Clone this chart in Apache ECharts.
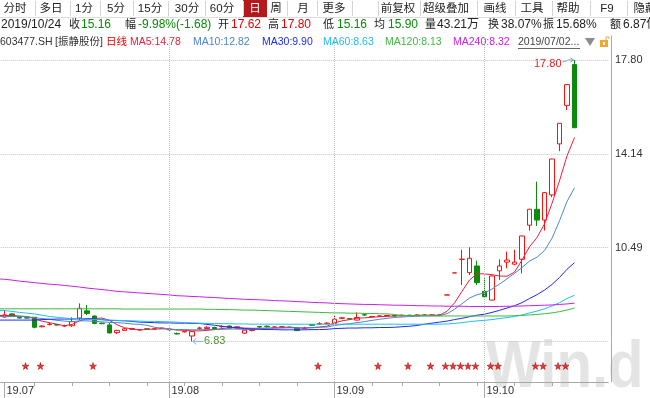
<!DOCTYPE html>
<html>
<head>
<meta charset="utf-8">
<script src="https://cdn.jsdelivr.net/npm/echarts@6/dist/echarts.min.js"></script>
<style>
  html, body { margin: 0; padding: 0; background: #fff; }
  #chart { width: 650px; height: 398px; }
</style>
</head>
<body>
<div id="chart"></div>
<script>
// trading days on screen, 2019
const julDays = [1,2,3,4,5,8,9,10,11,12,15,16,17,18,19,22,23,24,25,26,29,30,31]
const augDays = [1,2,5,6,7,8,9,12,13,14,15,16,19,20,21,22,23,26,27,28,29,30]
const sepDays = [2,3,4,5,6,9,10,11,12,16,17,18,19,20,23,24,25,26,27,30]
const octDays = [8,9,10,11,14,15,16,17,18,21,22,23,24]
const emptySlots = 4

const opens = [
  7.80,7.78,7.90,7.76,7.75,7.77,7.40,7.49,7.48,7.43,
  7.44,7.74,8.02,7.82,7.54,7.47,7.17,7.26,7.30,7.28,
  7.32,7.31,7.33,7.30,7.14,7.20,7.04,7.34,7.33,7.37,
  7.40,7.43,7.35,7.15,7.26,7.41,7.42,7.39,7.40,7.38,
  7.35,7.33,7.48,7.50,7.52,7.53,7.73,7.72,7.66,7.87,
  7.80,7.82,7.82,7.84,7.83,7.85,7.84,7.86,7.85,7.86,
  8.64,9.50,10.03,9.51,9.77,8.78,8.44,9.58,9.92,9.84,
  10.03,11.36,11.98,11.56,12.54,14.53,16.03,17.62
]
const closes = [
  7.86,7.86,7.82,7.74,7.74,7.38,7.43,7.50,7.47,7.44,
  7.60,8.12,7.92,7.53,7.52,7.16,7.26,7.32,7.33,7.29,
  7.30,7.32,7.35,7.28,7.12,7.22,7.21,7.35,7.38,7.31,
  7.41,7.35,7.40,7.27,7.27,7.39,7.41,7.39,7.40,7.37,
  7.25,7.35,7.46,7.52,7.54,7.69,7.75,7.70,7.76,7.86,
  7.80,7.82,7.84,7.82,7.85,7.84,7.86,7.85,7.86,7.85,
  8.64,9.50,10.03,10.07,9.12,8.57,9.38,9.77,10.00,9.92,
  10.94,11.98,11.56,12.63,13.94,15.33,16.84,15.16
]
const lows = [
  7.76,7.76,7.80,7.72,7.72,7.34,7.38,7.45,7.45,7.40,
  7.39,7.66,7.86,7.50,7.50,7.14,7.12,7.24,7.28,7.26,
  7.28,7.29,7.31,7.25,7.10,7.18,6.83,7.28,7.30,7.29,
  7.36,7.33,7.33,7.13,7.22,7.37,7.37,7.37,7.38,7.35,
  7.23,7.30,7.44,7.47,7.50,7.52,7.71,7.68,7.65,7.82,
  7.78,7.80,7.80,7.80,7.81,7.82,7.82,7.83,7.83,7.83,
  8.64,9.50,9.03,9.42,9.03,8.55,8.42,9.22,9.68,9.80,
  9.48,11.15,11.33,11.15,12.45,14.25,15.85,15.16
]
const highs = [
  7.95,8.05,7.93,7.78,7.77,7.78,7.46,7.56,7.50,7.48,
  7.77,8.31,8.25,7.84,7.56,7.55,7.28,7.35,7.36,7.31,
  7.34,7.35,7.37,7.33,7.17,7.25,7.22,7.40,7.42,7.40,
  7.46,7.45,7.42,7.29,7.31,7.43,7.45,7.41,7.42,7.40,
  7.36,7.40,7.50,7.58,7.58,7.82,7.78,7.74,7.96,7.91,
  7.82,7.84,7.86,7.86,7.88,7.87,7.89,7.88,7.89,7.88,
  8.64,9.50,10.40,10.50,9.98,9.29,9.40,10.03,10.33,10.40,
  10.96,12.00,13.06,12.65,13.95,15.33,16.86,17.80
]

const ma5 = [
  7.84,7.84,7.84,7.82,7.80,7.71,7.62,7.56,7.50,7.44,
  7.49,7.63,7.71,7.72,7.74,7.65,7.48,7.36,7.32,7.27,
  7.30,7.31,7.32,7.31,7.27,7.26,7.24,7.24,7.26,7.29,
  7.33,7.36,7.37,7.35,7.34,7.34,7.35,7.35,7.37,7.39,
  7.36,7.35,7.37,7.39,7.42,7.55,7.63,7.68,7.73,7.75,
  7.77,7.79,7.81,7.82,7.83,7.84,7.84,7.85,7.85,7.85,
  8.00,8.33,8.78,9.22,9.47,9.46,9.43,9.38,9.37,9.53,
  10.00,10.52,10.88,11.41,12.21,13.09,14.06,14.78
]
const ma10 = [
  7.80,7.80,7.80,7.80,7.79,7.76,7.72,7.69,7.65,7.62,
  7.60,7.63,7.63,7.61,7.59,7.57,7.56,7.54,7.51,7.49,
  7.46,7.38,7.34,7.31,7.29,7.29,7.28,7.28,7.29,7.29,
  7.30,7.31,7.31,7.30,7.30,7.32,7.34,7.35,7.35,7.36,
  7.35,7.35,7.36,7.38,7.39,7.45,7.49,7.52,7.56,7.60,
  7.65,7.69,7.73,7.76,7.78,7.80,7.81,7.82,7.82,7.83,
  7.91,8.08,8.30,8.52,8.65,8.72,8.87,9.06,9.27,9.48,
  9.71,9.96,10.11,10.37,10.85,11.53,12.28,12.82
]
const ma30 = [
  7.66,7.66,7.66,7.66,7.66,7.66,7.68,7.69,7.70,7.70,
  7.70,7.71,7.71,7.70,7.68,7.65,7.64,7.63,7.61,7.58,
  7.57,7.56,7.55,7.55,7.54,7.54,7.53,7.53,7.49,7.46,
  7.42,7.39,7.36,7.33,7.31,7.30,7.29,7.29,7.28,7.28,
  7.28,7.28,7.29,7.29,7.30,7.33,7.34,7.35,7.35,7.36,
  7.36,7.37,7.37,7.38,7.40,7.42,7.45,7.50,7.54,7.58,
  7.62,7.68,7.73,7.79,7.85,7.89,7.96,8.04,8.13,8.22,
  8.34,8.50,8.65,8.83,9.05,9.32,9.64,9.90
]
const ma60 = [
  8.05,8.03,8.00,7.96,7.93,7.90,7.85,7.80,7.77,7.74,
  7.72,7.70,7.69,7.68,7.67,7.66,7.65,7.64,7.63,7.62,
  7.61,7.61,7.60,7.59,7.58,7.56,7.55,7.54,7.53,7.53,
  7.52,7.52,7.51,7.51,7.50,7.50,7.50,7.50,7.50,7.50,
  7.50,7.50,7.50,7.50,7.50,7.50,7.50,7.50,7.50,7.50,
  7.50,7.50,7.50,7.50,7.50,7.50,7.50,7.50,7.50,7.50,
  7.51,7.53,7.56,7.60,7.63,7.65,7.68,7.72,7.76,7.80,
  7.86,7.94,8.01,8.10,8.21,8.34,8.50,8.63
]
const ma120 = [
  8.10,8.10,8.10,8.10,8.10,8.10,8.10,8.10,8.10,8.10,
  8.10,8.10,8.10,8.10,8.10,8.10,8.10,8.09,8.09,8.09,
  8.09,8.09,8.09,8.09,8.09,8.09,8.09,8.09,8.08,8.08,
  8.07,8.07,8.06,8.05,8.05,8.04,8.03,8.02,8.01,8.00,
  7.99,7.98,7.97,7.96,7.95,7.94,7.94,7.93,7.93,7.92,
  7.92,7.91,7.90,7.88,7.84,7.84,7.83,7.83,7.83,7.82,
  7.82,7.82,7.82,7.82,7.82,7.82,7.82,7.82,7.82,7.83,
  7.84,7.86,7.88,7.91,7.94,7.99,8.05,8.13
]
const ma240 = [
  9.27,9.25,9.22,9.18,9.15,9.12,9.09,9.06,9.04,9.01,
  8.98,8.95,8.91,8.88,8.85,8.82,8.78,8.76,8.74,8.72,
  8.70,8.68,8.66,8.64,8.61,8.60,8.58,8.57,8.55,8.54,
  8.52,8.50,8.49,8.47,8.46,8.45,8.44,8.42,8.41,8.40,
  8.38,8.37,8.35,8.34,8.33,8.31,8.30,8.29,8.28,8.27,
  8.27,8.26,8.25,8.24,8.24,8.23,8.22,8.22,8.21,8.21,
  8.20,8.20,8.20,8.19,8.19,8.19,8.19,8.19,8.20,8.20,
  8.21,8.22,8.23,8.24,8.25,8.27,8.29,8.32
]

// candles that carry a star marker under them
const starIdx = [4,6,13,43,51,55,58,60,61,62,63,64,66,67,72,73,75,76]

// price grid lines on the right axis (6.83 has no label there)
const priceTicks = [17.80, 14.14, 10.49, 6.83]
const priceLabels = [17.80, 14.14, 10.49]

const FONT = '"Liberation Sans", "Noto Sans CJK SC", sans-serif'
const RED = '#e60000'
const GREEN = '#0a8a0a'
const UP = '#ff1010'
const DOWN = '#0c8a0c'
const MA_COLORS = ['#e8203c', '#4d86c6', '#1e2cf5', '#1ec0ee', '#3fb93f', '#c820e8']

// y range chosen so 17.80 sits on y=60 and 6.83 on y=341
const Y_MIN = 5.2464
const Y_MAX = 18.7357
const STAR_LEVEL = 5.87

const pad = n => String(n).padStart(2, '0')
const dates = [].concat(
  julDays.map(d => '2019-07-' + pad(d)),
  augDays.map(d => '2019-08-' + pad(d)),
  sepDays.map(d => '2019-09-' + pad(d)),
  octDays.map(d => '2019-10-' + pad(d))
)
const categories = dates.concat(Array.from({ length: emptySlots }, (_, i) => 'pad' + i))

const monthStarts = []
const weekStarts = []
dates.forEach((d, i) => {
  if (i === 0) return
  const prev = dates[i - 1]
  if (d.slice(5, 7) !== prev.slice(5, 7)) monthStarts.push(i)
  const dd = new Date(d), dp = new Date(prev)
  if (dd.getDay() <= dp.getDay() || dd - dp > 6 * 864e5) weekStarts.push(i)
})
// first slot is cut by the frame, the July label sits on the first whole candle
const monthLabelSet = new Set([1].concat(monthStarts))
const weekSet = new Set(weekStarts.filter(i => !monthLabelSet.has(i)))

const candles = opens.map((o, i) => [o, closes[i], lows[i], highs[i]])

const chart = echarts.init(document.getElementById('chart'))

function txt(x, y, text, color, size, align, extra) {
  return Object.assign({
    type: 'text', x, y, silent: true,
    style: { text, fill: color, font: size + 'px ' + FONT, align: align || 'left', verticalAlign: 'middle' }
  }, extra || {})
}

function vline(x, y1, y2, color) {
  return { type: 'line', silent: true, shape: { x1: x, y1, x2: x, y2 }, style: { stroke: color, lineWidth: 1 } }
}

function buildHeader() {
  const els = []
  // row 1: period tabs
  const tabs = [
    ['分时', 15], ['多日', 51], ['1分', 84], ['5分', 116], ['15分', 150], ['30分', 187],
    ['60分', 222], ['日', 255], ['周', 276], ['月', 303], ['更多', 334],
    ['前复权', 398], ['超级叠加', 446], ['画线', 495], ['工具', 532], ['帮助', 568], ['F9', 607], ['隐藏', 645]
  ]
  const seps = [35, 70, 100, 133, 168, 205, 243, 287, 317, 352, 378, 420, 477, 515, 552, 590, 627]
  els.push({ type: 'rect', silent: true, shape: { x: 243, y: 0, width: 24, height: 17 }, style: { fill: '#b3181c' } })
  seps.forEach(x => els.push(vline(x + 0.5, 1, 16, '#d4d4d4')))
  els.push({ type: 'line', silent: true, shape: { x1: 0, y1: 17.5, x2: 650, y2: 17.5 }, style: { stroke: '#dedede', lineWidth: 1 } })
  tabs.forEach(([t, cx]) => els.push(txt(cx, 9, t, t === '日' ? '#fff' : '#222', 11.5, 'center')))

  // row 2: quote of the last day (CJK captions a bit smaller than the figures)
  const n = closes.length - 1
  const prevClose = closes[n - 1]
  const chg = closes[n] - prevClose
  const caps = [['收', 69], ['幅', 125], ['开', 218], ['高', 268], ['低', 323], ['均', 374], ['量', 425], ['换', 488], ['振', 543], ['额', 610]]
  caps.forEach(([t, x]) => els.push(txt(x, 25, t, '#222', 11)))
  const figs = [
    [dates[n].replace(/-/g, '/'), 1, '#222'],
    [closes[n].toFixed(2), 81, GREEN],
    [(chg / prevClose * 100).toFixed(2) + '%(' + chg.toFixed(2) + ')', 138, GREEN],
    [opens[n].toFixed(2), 231, RED],
    [highs[n].toFixed(2), 281, RED],
    [lows[n].toFixed(2), 337, GREEN],
    ['15.90', 388, GREEN],
    ['43.21万', 437, '#222'],
    ['38.07%', 501, '#222'],
    [((highs[n] - lows[n]) / prevClose * 100).toFixed(2) + '%', 556, '#222'],
    ['6.87亿', 623, '#222']
  ]
  figs.forEach(([t, x, c]) => els.push(txt(x, 25, t, c, 12)))

  // row 3: legend
  const last = a => a[a.length - 1].toFixed(2)
  const row3 = [
    ['603477.SH', 0, '#333'], ['[振静股份]', 55, '#333'], ['日线', 106, RED],
    ['MA5:' + last(ma5), 130, MA_COLORS[0]], ['MA10:' + last(ma10), 193, MA_COLORS[1]],
    ['MA30:' + last(ma30), 262, MA_COLORS[2]], ['MA60:' + last(ma60), 323, MA_COLORS[3]],
    ['MA120:' + last(ma120), 385, MA_COLORS[4]], ['MA240:' + last(ma240), 453, MA_COLORS[5]],
    ['2019/07/02...', 518, '#444']
  ]
  row3.forEach(([t, x, c]) => els.push(txt(x, 42, t, c, 10.5)))
  els.push({ type: 'line', silent: true, shape: { x1: 518, y1: 48.5, x2: 580, y2: 48.5 }, style: { stroke: '#666', lineWidth: 1 } })
  els.push({ type: 'polygon', silent: true, shape: { points: [[585, 38], [595, 38], [590, 46]] }, style: { fill: '#8c8c8c' } })
  els.push({ type: 'rect', silent: true, shape: { x: 600, y: 40, width: 8, height: 7 }, style: { fill: '#f2a72e' } })
  els.push({ type: 'rect', silent: true, shape: { x: 603, y: 42, width: 2, height: 3 }, style: { fill: '#fff' } })
  els.push({ type: 'polyline', silent: true, shape: { points: [[606, 40], [606, 37], [609, 37], [609, 39]] }, style: { stroke: '#f2a72e', lineWidth: 1, fill: null } })

  // watermark
  els.push({
    type: 'text', x: 486, y: 369, scaleX: 0.88, silent: true, z: -1,
    style: { text: 'Win.d', font: 'bold 66px "Liberation Sans"', fill: '#e4e4e4', verticalAlign: 'middle' }
  })
  return els
}

const option = {
  animation: false,
  backgroundColor: '#fff',
  grid: { left: -6.75, right: 41.75, top: 36, bottom: 16, outerBoundsMode: 'none' },
  xAxis: [
    {
      type: 'category', data: categories, boundaryGap: true,
      axisLine: { lineStyle: { color: '#a8a8a8', width: 1 } },
      axisTick: { show: true, alignWithLabel: true, length: 16, interval: i => monthLabelSet.has(i), lineStyle: { color: '#a8a8a8' } },
      axisLabel: {
        interval: i => monthLabelSet.has(i),
        formatter: v => v.startsWith('pad') ? '' : v.slice(2, 4) + '.' + v.slice(5, 7),
        align: 'left', margin: 3, padding: [0, 0, 0, 2],
        color: '#333', fontSize: 11, fontFamily: FONT
      },
      splitLine: { show: false }
    },
    {
      type: 'category', data: categories, boundaryGap: true, position: 'bottom',
      axisLine: { show: false },
      axisTick: { show: true, alignWithLabel: true, length: 4, interval: i => weekSet.has(i), lineStyle: { color: '#a8a8a8' } },
      axisLabel: { show: false },
      splitLine: { show: false }
    }
  ],
  yAxis: {
    type: 'value', position: 'right', offset: 2.75, min: Y_MIN, max: Y_MAX,
    axisLine: { show: true, lineStyle: { color: '#a8a8a8' } },
    axisTick: { show: false, customValues: priceTicks },
    axisLabel: { customValues: priceLabels, formatter: v => v.toFixed(2), color: '#333', fontSize: 11, margin: 4, fontFamily: FONT },
    splitLine: { show: true, lineStyle: { type: 'dotted', color: '#c2c2c2', width: 1 } }
  },
  series: [
    {
      type: 'candlestick', name: '日线', data: candles, barWidth: 5, z: 3,
      itemStyle: { color: '#ffffff', color0: DOWN, borderColor: UP, borderColor0: DOWN, borderColorDoji: UP, borderWidth: 1 },
      markLine: {
        silent: true, symbol: ['none', 'none'], label: { show: false },
        lineStyle: { type: 'dotted', color: '#c2c2c2', width: 1 },
        data: monthStarts.map(i => ({ xAxis: i }))
      }
    },
    ...[ma5, ma10, ma30, ma60, ma120, ma240].map((d, k) => ({
      type: 'line', name: ['MA5', 'MA10', 'MA30', 'MA60', 'MA120', 'MA240'][k], data: d,
      symbol: 'none', showSymbol: false, silent: true, z: 4,
      lineStyle: { width: 1, color: MA_COLORS[k] }
    })),
    {
      type: 'scatter', data: starIdx.map(i => [i, STAR_LEVEL]), z: 5, silent: true,
      symbol: 'path://M50,0 L61,35 L98,35 L68,57 L79,91 L50,70 L21,91 L32,57 L2,35 L39,35 Z',
      symbolSize: 7, symbolOffset: [-1.5, 0],
      itemStyle: { color: '#f00000', borderColor: '#8a0000', borderWidth: 0.6 }
    }
  ],
  graphic: { elements: buildHeader() }
}

chart.setOption(option)

// high / low callouts placed through the chart's own scales
const hiIdx = highs.indexOf(Math.max(...highs))
const loIdx = lows.indexOf(Math.min(...lows))
const hp = chart.convertToPixel({ gridIndex: 0 }, [hiIdx, highs[hiIdx]])
const lp = chart.convertToPixel({ gridIndex: 0 }, [loIdx, lows[loIdx]])
const arrowColor = '#6f9fc7'
const notes = [
  txt(hp[0] - 13, hp[1] + 4, highs[hiIdx].toFixed(2), '#e02020', 11, 'right'),
  { type: 'polyline', silent: true, shape: { points: [[hp[0] - 12, hp[1] + 2], [hp[0] - 6, hp[1]], [hp[0] - 1, hp[1]]] }, style: { stroke: arrowColor, lineWidth: 1, fill: null } },
  { type: 'polyline', silent: true, shape: { points: [[hp[0] - 4, hp[1] - 2], [hp[0] - 1, hp[1]], [hp[0] - 4, hp[1] + 2]] }, style: { stroke: arrowColor, lineWidth: 1, fill: null } },
  { type: 'polyline', silent: true, shape: { points: [[lp[0] + 4, lp[1] - 3], [lp[0] + 1, lp[1]], [lp[0] + 4, lp[1] + 3]] }, style: { stroke: arrowColor, lineWidth: 1, fill: null } },
  { type: 'line', silent: true, shape: { x1: lp[0] + 1, y1: lp[1], x2: lp[0] + 11, y2: lp[1] }, style: { stroke: arrowColor, lineWidth: 1 } },
  txt(lp[0] + 12, lp[1], lows[loIdx].toFixed(2), '#4a8f2e', 11)
]
option.graphic = { elements: buildHeader().concat(notes) }
chart.setOption(option, true)
</script>
</body>
</html>
